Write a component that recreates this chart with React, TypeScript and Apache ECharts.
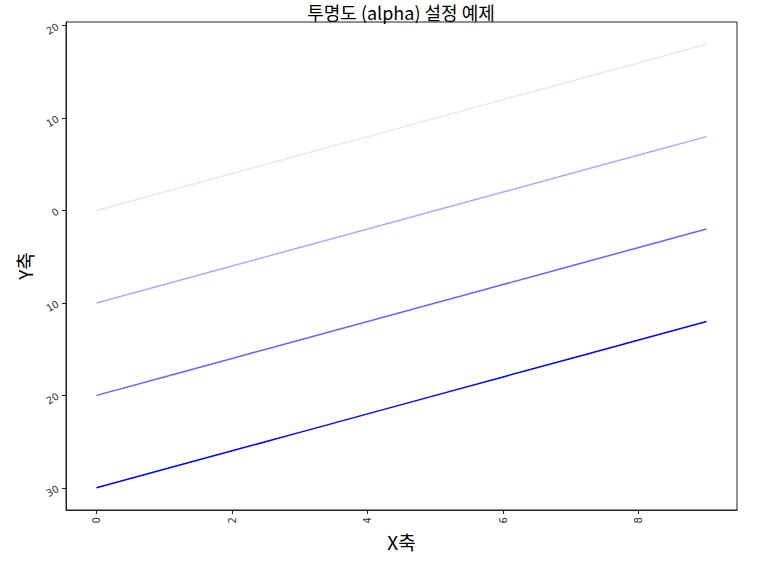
import React, { useEffect, useRef } from "react";
import * as echarts from "echarts";

const xValues = [0, 1, 2, 3, 4, 5, 6, 7, 8, 9];
const series1 = [0, 2, 4, 6, 8, 10, 12, 14, 16, 18];
const series2 = [-10, -8, -6, -4, -2, 0, 2, 4, 6, 8];
const series3 = [-20, -18, -16, -14, -12, -10, -8, -6, -4, -2];
const series4 = [-30, -28, -26, -24, -22, -20, -18, -16, -14, -12];
const alphas = [0.1, 0.33, 0.6, 1.0];
const xTicks = [0, 2, 4, 6, 8];
const yTicks = [-30, -20, -10, 0, 10, 20];

const FONT = "'Noto Sans CJK KR', 'DejaVu Sans', sans-serif";

export default function App() {
  const ref = useRef<HTMLDivElement>(null);
  useEffect(() => {
    if (!ref.current) return;
    const chart = echarts.init(ref.current, null, { renderer: "svg" });
    const all = [series1, series2, series3, series4];
    chart.setOption({
      animation: false,
      backgroundColor: "#ffffff",
      title: {
        text: "투명도 (alpha) 설정 예제",
        left: 401,
        textAlign: "center",
        top: 2,
        padding: 0,
        textStyle: { fontFamily: FONT, fontSize: 18, lineHeight: 19, fontWeight: "normal", color: "#000" },
      },
      grid: {
        left: 66,
        right: 28,
        top: 22,
        bottom: 55,
        show: true,
        borderColor: "#222",
        borderWidth: 1,
        backgroundColor: "transparent",
      },
      xAxis: {
        type: "value",
        min: -0.45,
        max: 9.45,
        name: "X축",
        nameLocation: "middle",
        nameGap: 22,
        nameTextStyle: { fontFamily: FONT, fontSize: 19, color: "#000" },
        splitLine: { show: false },
        axisLine: { show: true, onZero: false, lineStyle: { color: "#222", width: 1 } },
        axisTick: { show: true, length: 4, lineStyle: { color: "#222" }, customValues: xTicks },
        axisLabel: {
          rotate: 90,
          fontSize: 10,
          color: "#333",
          fontFamily: "'DejaVu Sans', sans-serif",
          margin: 7,
          customValues: xTicks,
        },
      },
      yAxis: {
        type: "value",
        min: -32.4,
        max: 20.4,
        name: "Y축",
        nameLocation: "middle",
        nameGap: 32,
        nameRotate: 90,
        nameTextStyle: { fontFamily: FONT, fontSize: 19, color: "#000" },
        splitLine: { show: false },
        axisLine: { show: true, onZero: false, lineStyle: { color: "#222", width: 1 } },
        axisTick: { show: true, length: 4, lineStyle: { color: "#222" }, customValues: yTicks },
        axisLabel: {
          rotate: 30,
          fontSize: 10,
          color: "#333",
          fontFamily: "'DejaVu Sans', sans-serif",
          margin: 8,
          customValues: yTicks,
          formatter: (v: number) => String(Math.abs(v)),
        },
      },
      series: all.map((s, i) => ({
        type: "line",
        data: xValues.map((x, j) => [x, s[j]]),
        showSymbol: false,
        symbol: "none",
        lineStyle: { color: `rgba(0,0,255,${alphas[i]})`, width: 1.5 },
      })),
    });
    return () => chart.dispose();
  }, []);
  return (
    <div
      ref={ref}
      style={{ position: "fixed", left: 0, top: 0, width: 765, height: 565 }}
    />
  );
}
